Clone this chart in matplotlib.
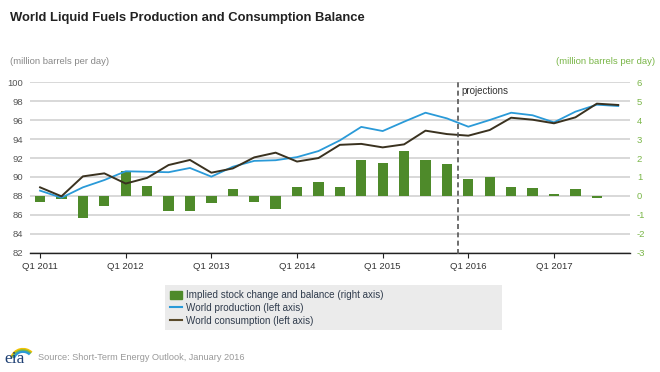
import numpy as np
import matplotlib
matplotlib.use("Agg")
import matplotlib.pyplot as plt
from matplotlib.patches import Patch, Arc, Rectangle
from matplotlib.lines import Line2D

plt.rcParams["font.family"] = ["Liberation Sans", "DejaVu Sans"]
plt.rcParams["axes.unicode_minus"] = False

# -------------------------------------------------------------------------
# DATA (quarterly, Q1 2011 .. Q4 2017)
# -------------------------------------------------------------------------
quarters = [f"Q{q} {y}" for y in range(2011, 2018) for q in range(1, 5)]
tick_labels = ["Q1 2011", "Q1 2012", "Q1 2013", "Q1 2014", "Q1 2015", "Q1 2016", "Q1 2017"]

production = [88.55, 87.8, 88.9, 89.67, 90.6, 90.55, 90.5, 90.95,
              90.03, 91.08, 91.7, 91.77, 92.1, 92.74, 93.87, 95.3,
              94.86, 95.85, 96.8, 96.2, 95.32, 96.03, 96.8, 96.53,
              95.78, 96.91, 97.65, 97.51]
consumption = [88.9, 87.95, 90.06, 90.38, 89.3, 89.9, 91.26, 91.8,
               90.45, 90.9, 92.07, 92.57, 91.63, 92.0, 93.4, 93.5,
               93.13, 93.45, 94.9, 94.54, 94.37, 94.97, 96.27, 96.06,
               95.68, 96.31, 97.76, 97.62]
stock_change = [-0.35, -0.15, -1.15, -0.56, 1.34, 0.53, -0.78, -0.82,
                -0.37, 0.34, -0.32, -0.72, 0.46, 0.72, 0.45, 1.92,
                1.76, 2.36, 1.89, 1.68, 0.88, 1.0, 0.49, 0.44,
                0.09, 0.37, -0.14, 0.0]

projection_start = "Q1 2016"

# colours
c_green = "#4e8a2a"
c_green_txt = "#7ab648"
c_blue = "#2a9ad8"
c_cons = "#3a3220"
c_grey = "#555555"

x = np.arange(len(quarters))

# -------------------------------------------------------------------------
# PLOT
# -------------------------------------------------------------------------
fig = plt.figure(figsize=(6.6, 3.72), dpi=100)
ax2 = fig.add_axes([30 / 660, 1 - 252.5 / 372, 600 / 660, 170 / 372])
ax = ax2.twinx()

# bars on right axis (drawn underneath)
ax2.bar(x, stock_change, width=0.48, color=c_green, zorder=3)
ax2.set_ylim(-3, 6)
ax2.set_yticks(range(-3, 7))
ax2.grid(axis="y", color="#d6d6d6", lw=1.3, zorder=0)
ax2.set_axisbelow(True)

# lines on left axis
ax.plot(x, production, color=c_blue, lw=1.3, zorder=4)
ax.plot(x, consumption, color=c_cons, lw=1.4, zorder=5)
ax.set_ylim(82, 100)
ax.set_yticks(range(82, 101, 2))

ax.set_xlim(-0.47, 27.55)
ax2.set_xticks([quarters.index(t) for t in tick_labels])
ax2.set_xticklabels(tick_labels)

# swap sides: lines axis shows left labels, bars axis right labels
ax.yaxis.tick_left()
ax2.yaxis.tick_right()

for a in (ax, ax2):
    for s in a.spines.values():
        s.set_visible(False)
ax2.spines["bottom"].set_visible(True)
ax2.spines["bottom"].set_color("#222222")
ax2.spines["bottom"].set_linewidth(1.0)

ax.tick_params(axis="y", length=0, labelsize=6.8, labelcolor=c_grey, pad=5)
ax2.tick_params(axis="y", length=0, labelsize=6.8, labelcolor=c_green_txt, pad=5)
ax2.tick_params(axis="x", length=3.5, width=0.8, color="#222222",
                labelsize=6.8, labelcolor="#333333", pad=3)
ax.tick_params(axis="x", length=0, labelbottom=False)

# projections divider
px = quarters.index(projection_start) - 0.5
ax.axvline(px, ymin=-0.01, ymax=1.01, color="#555555", lw=1.2,
           ls=(0, (3, 2)), zorder=6, clip_on=False)
ax.text(px + 0.2, 99.1, "projections", fontsize=7, color="#333333",
        va="center", ha="left")

# titles
fig.text(10 / 660, 1 - 18 / 372, "World Liquid Fuels Production and Consumption Balance",
         fontsize=9.4, fontweight="bold", color="#222222", va="center", ha="left")
fig.text(10 / 660, 1 - 62 / 372, "(million barrels per day)", fontsize=6.8,
         color="#888888", va="center", ha="left")
fig.text(655 / 660, 1 - 62 / 372, "(million barrels per day)", fontsize=6.8,
         color=c_green_txt, va="center", ha="right")

# legend on a wide grey panel
fig.patches.append(Rectangle((165 / 660, 1 - 329.5 / 372), 337 / 660, 44.5 / 372,
                             facecolor="#ebebeb", edgecolor="none",
                             transform=fig.transFigure, zorder=0))
handles = [
    Patch(facecolor=c_green, edgecolor=c_green),
    Line2D([], [], color=c_blue, lw=1.5),
    Line2D([], [], color="#5a4a2a", lw=1.5),
]
labels = [
    "Implied stock change and balance (right axis)",
    "World production (left axis)",
    "World consumption (left axis)",
]
leg = fig.legend(handles, labels, loc="upper left",
                 bbox_to_anchor=(170 / 660, 1 - 290 / 372),
                 fontsize=7.1, frameon=False,
                 handlelength=1.25, handleheight=0.9, handletextpad=0.35,
                 labelspacing=0.3, borderpad=0, borderaxespad=0)
for t in leg.get_texts():
    t.set_color("#2f3b4c")

# source line with a small eia mark
fig.text(38 / 660, 1 - 358 / 372, "Source: Short-Term Energy Outlook, January 2016",
         fontsize=6.6, color="#999999", va="center", ha="left")
fig.text(4 / 660, 1 - 359 / 372, "eia", fontsize=12.5, family="Liberation Serif",
         color="#1d3f73", va="center", ha="left")
for r, col in [(0.034, "#f2c200"), (0.030, "#7ab648"), (0.026, "#2a9ad8")]:
    fig.patches.append(Arc((23 / 660, 1 - 361 / 372), r * 1.1, r * 1.9,
                           theta1=60, theta2=150, color=col, lw=1.6,
                           transform=fig.transFigure))

fig.savefig("out.png", dpi=100)
